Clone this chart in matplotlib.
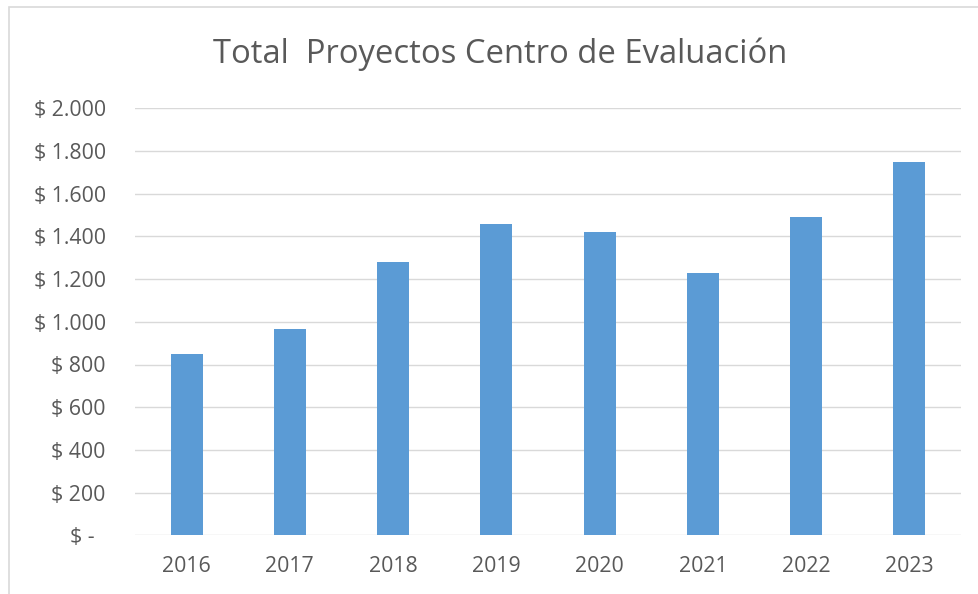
import matplotlib.pyplot as plt
from matplotlib.patches import Rectangle
from matplotlib.ticker import FuncFormatter

years = ["2016", "2017", "2018", "2019", "2020", "2021", "2022", "2023"]
totals = [849, 965, 1279, 1457, 1421, 1230, 1489, 1747]

plt.rcParams['font.family'] = ['Open Sans', 'DejaVu Sans']
text_color = '#595959'

fig = plt.figure(figsize=(9.79, 5.94), dpi=100)
ax = fig.add_axes([135 / 979, 1 - 535.3 / 594, 826 / 979, 427 / 594])

# chart frame (cropped on the right and bottom like the screenshot)
fig.patches.append(Rectangle((9 / 979, -0.1), 1.2, 1 - 7 / 594 + 0.1,
                             transform=fig.transFigure, fill=False,
                             edgecolor='#d9d9d9', linewidth=1.2))

ax.bar(years, totals, width=0.31, color='#5B9BD5', zorder=3)

ax.set_ylim(0, 2000)
ax.set_xlim(-0.5, len(years) - 0.5)
ax.set_yticks(range(0, 2001, 200))


def money(v, pos):
    if v == 0:
        return '$ -  '
    return '$ ' + f'{int(v):,}'.replace(',', '.')


ax.yaxis.set_major_formatter(FuncFormatter(money))
ax.grid(axis='y', color='#d9d9d9', linewidth=1.0, zorder=0)
for s in ax.spines.values():
    s.set_visible(False)
ax.tick_params(axis='both', length=0, labelsize=15.3, colors=text_color)
ax.tick_params(axis='y', pad=21)
ax.tick_params(axis='x', pad=15)

fig.text(500 / 979, 1 - 54 / 594, 'Total  Proyectos Centro de Evaluación',
         ha='center', va='center', fontsize=23.6, color=text_color)

fig.savefig('out.png', dpi=100)
